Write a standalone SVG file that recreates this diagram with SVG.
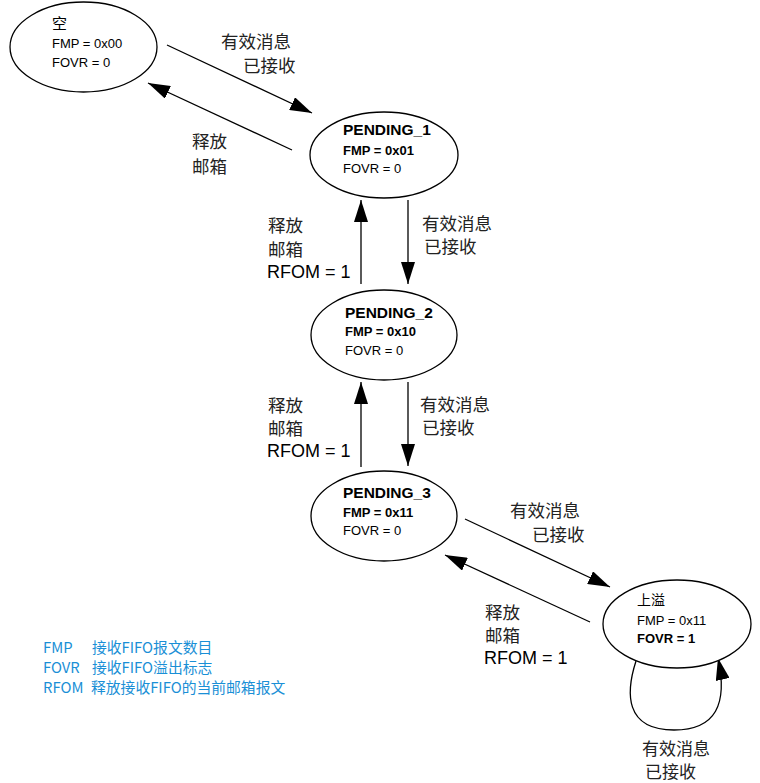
<svg xmlns="http://www.w3.org/2000/svg" width="760" height="783" viewBox="0 0 760 783">
<style>
.st{fill:#fff;stroke:#000;stroke-width:1.3}
.ln{fill:none;stroke:#000;stroke-width:1.3}
.t{font-family:"Liberation Sans",Arial,sans-serif;font-size:13px;fill:#000}
.tb{font-family:"Liberation Sans",Arial,sans-serif;font-size:13px;font-weight:bold;fill:#000}
.th{font-family:"Liberation Sans",Arial,sans-serif;font-size:15.5px;font-weight:bold;fill:#000}
.lb{font-family:"Noto Sans CJK SC",sans-serif;font-size:17.5px;fill:#222}
.lr{font-family:"Liberation Sans",Arial,sans-serif;font-size:18px;fill:#000}
.lg{font-family:"Noto Sans CJK SC","Liberation Sans",sans-serif;font-size:14.8px;fill:#1a8fd6}
</style>
<defs>
<marker id="ah" viewBox="0 0 22 14" refX="22" refY="7" markerWidth="22" markerHeight="14" markerUnits="userSpaceOnUse" orient="auto">
<path d="M0,0 L22,7 L0,14 z" fill="#000"/>
</marker>
</defs>
<g id="connectors">
<line class="ln" x1="167" y1="45" x2="312" y2="113" marker-end="url(#ah)"/>
<line class="ln" x1="292" y1="150" x2="148" y2="83" marker-end="url(#ah)"/>
<line class="ln" x1="361" y1="284" x2="361" y2="200" marker-end="url(#ah)"/>
<line class="ln" x1="408" y1="200" x2="408" y2="284" marker-end="url(#ah)"/>
<line class="ln" x1="361" y1="467" x2="361" y2="382" marker-end="url(#ah)"/>
<line class="ln" x1="408" y1="382" x2="408" y2="466" marker-end="url(#ah)"/>
<line class="ln" x1="465" y1="519" x2="610" y2="587" marker-end="url(#ah)"/>
<line class="ln" x1="590" y1="622" x2="445" y2="555" marker-end="url(#ah)"/>
<path class="ln" d="M636,661 C626,692 624,730 674,730 C716,730 728,704 718,658" marker-end="url(#ah)"/>
<g id="edge-labels">
<text class="lb" x="221" y="48">有效消息</text>
<text class="lb" x="243" y="72">已接收</text>
<text class="lb" x="192" y="148">释放</text>
<text class="lb" x="192" y="173">邮箱</text>
<text class="lb" x="268" y="232">释放</text>
<text class="lb" x="268" y="256">邮箱</text>
<text class="lr" x="267" y="278">RFOM = 1</text>
<text class="lb" x="422" y="230">有效消息</text>
<text class="lb" x="424" y="253">已接收</text>
<text class="lb" x="268" y="412">释放</text>
<text class="lb" x="268" y="435">邮箱</text>
<text class="lr" x="267" y="457">RFOM = 1</text>
<text class="lb" x="420" y="411">有效消息</text>
<text class="lb" x="422" y="434">已接收</text>
<text class="lb" x="510" y="517">有效消息</text>
<text class="lb" x="532" y="541">已接收</text>
<text class="lb" x="485" y="619">释放</text>
<text class="lb" x="485" y="642">邮箱</text>
<text class="lr" x="484" y="664">RFOM = 1</text>
<text class="lb" x="642" y="755" style="font-size:17px">有效消息</text>
<text class="lb" x="645" y="778" style="font-size:17px">已接收</text>
</g>
</g>
<g id="empty">
<ellipse class="st" cx="83.5" cy="47" rx="73.5" ry="45"/>
<text class="lb" x="52" y="29" style="font-size:15px;fill:#000">空</text>
<text class="t" x="52" y="48">FMP = 0x00</text>
<text class="t" x="52" y="67">FOVR = 0</text>
</g>
<g id="pending1">
<ellipse class="st" cx="384" cy="155" rx="74" ry="43"/>
<text class="th" x="343" y="135">PENDING_1</text>
<text class="tb" x="343" y="155">FMP = 0x01</text>
<text class="t" x="343" y="173">FOVR = 0</text>
</g>
<g id="pending2">
<ellipse class="st" cx="384" cy="335" rx="73" ry="45"/>
<text class="th" x="345" y="318">PENDING_2</text>
<text class="tb" x="345" y="336">FMP = 0x10</text>
<text class="t" x="345" y="355">FOVR = 0</text>
</g>
<g id="pending3">
<ellipse class="st" cx="384" cy="516" rx="73" ry="45"/>
<text class="th" x="343" y="498">PENDING_3</text>
<text class="tb" x="343" y="517">FMP = 0x11</text>
<text class="t" x="343" y="535">FOVR = 0</text>
</g>
<g id="overflow">
<ellipse class="st" cx="677" cy="624" rx="74" ry="44"/>
<text class="lb" x="637" y="605" style="font-size:14px;fill:#000">上溢</text>
<text class="t" x="637" y="625">FMP = 0x11</text>
<text class="tb" x="637" y="643">FOVR = 1</text>
</g>
<g id="legend">
<text class="lg" x="43" y="653">FMP</text>
<text class="lg" x="92" y="653">接收FIFO报文数目</text>
<text class="lg" x="43" y="673">FOVR</text>
<text class="lg" x="92" y="673">接收FIFO溢出标志</text>
<text class="lg" x="43" y="693">RFOM</text>
<text class="lg" x="91" y="693">释放接收FIFO的当前邮箱报文</text>
</g>
</svg>
